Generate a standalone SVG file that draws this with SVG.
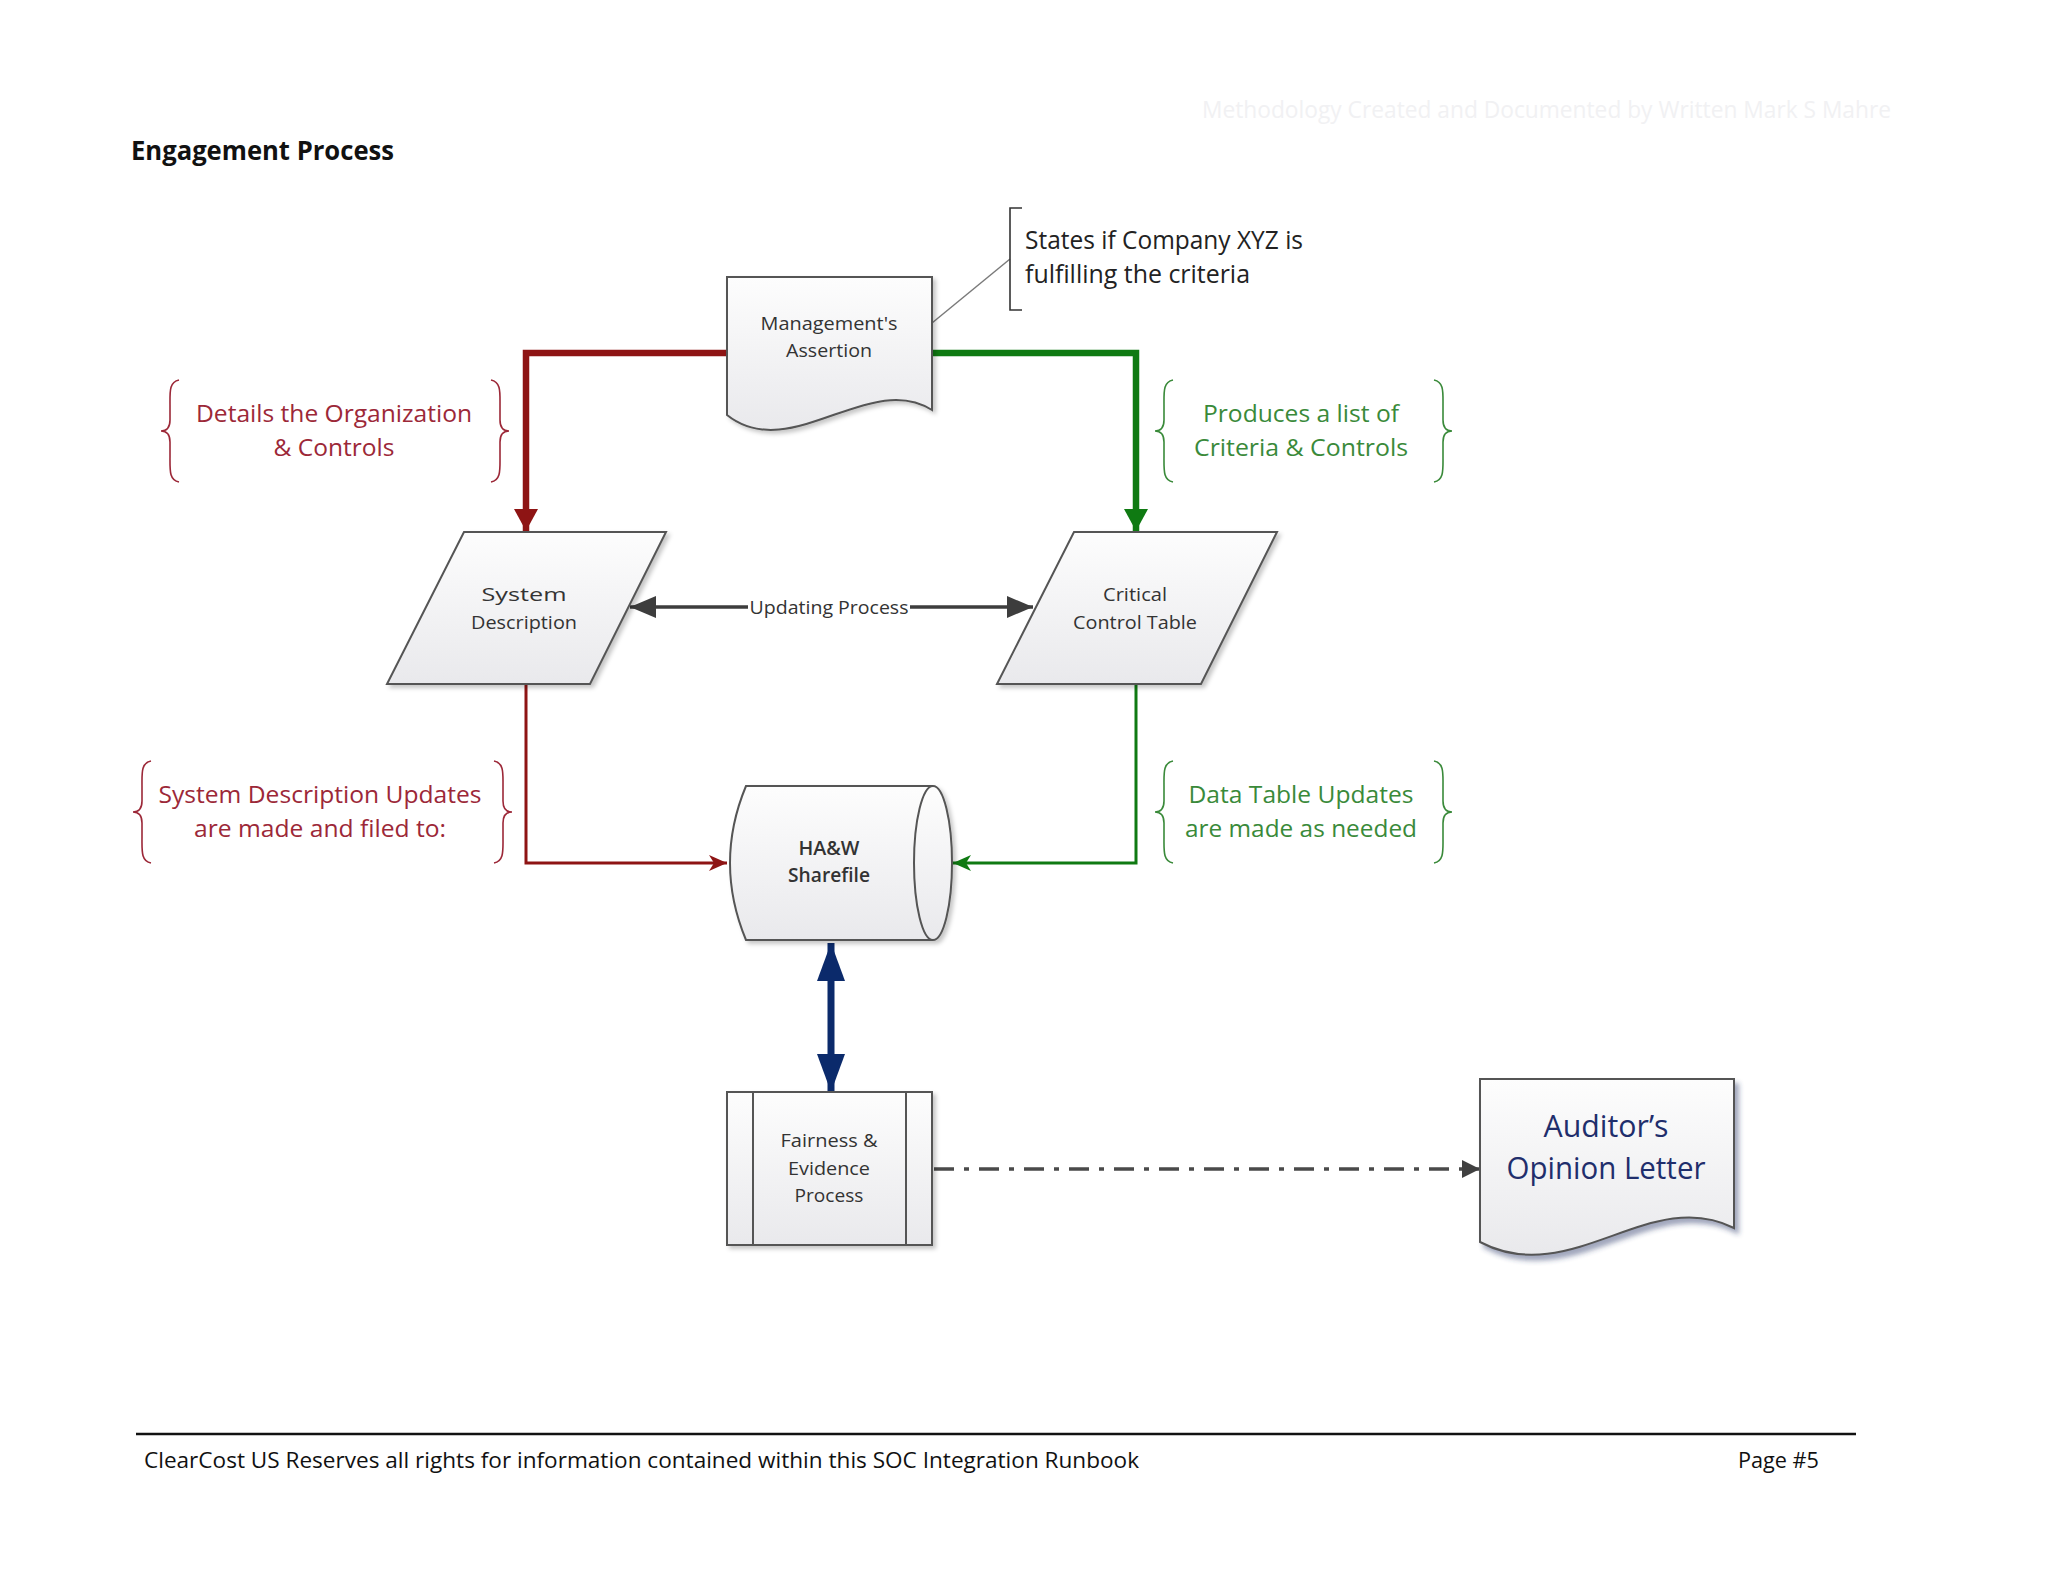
<svg xmlns="http://www.w3.org/2000/svg" width="2048" height="1582" viewBox="0 0 2048 1582">
<style>
text{font-family:"Open Sans","Liberation Sans",sans-serif}
.node{fill:url(#g);stroke:#555;stroke-width:2;filter:url(#sh)}
.nt{font-size:19px;fill:#333;text-anchor:middle}
.red{fill:#9c2838;font-size:24px;text-anchor:middle}
.grn{fill:#3a8a3a;font-size:24px;text-anchor:middle}
.bR{fill:none;stroke:#9c2838;stroke-width:1.6}
.bG{fill:none;stroke:#3a8a3a;stroke-width:1.6}
</style>
<defs>
<linearGradient id="g" x1="0" y1="0" x2="0" y2="1"><stop offset="0" stop-color="#fdfdfd"/><stop offset="1" stop-color="#e9e9ec"/></linearGradient>
<filter id="sh" x="-10%" y="-10%" width="130%" height="130%"><feDropShadow dx="3" dy="3" stdDeviation="2" flood-color="#000" flood-opacity="0.22"/></filter>
<filter id="sh2" x="-10%" y="-10%" width="130%" height="130%"><feDropShadow dx="4" dy="5" stdDeviation="2.5" flood-color="#2a3a6a" flood-opacity="0.45"/></filter>
<marker id="aRed" markerUnits="userSpaceOnUse" markerWidth="22" markerHeight="24" refX="22" refY="12" orient="auto"><path d="M0,0 L22,12 L0,24 Z" fill="#8e1414"/></marker>
<marker id="aGrn" markerUnits="userSpaceOnUse" markerWidth="22" markerHeight="24" refX="22" refY="12" orient="auto"><path d="M0,0 L22,12 L0,24 Z" fill="#0f7a12"/></marker>
<marker id="aRedS" markerUnits="userSpaceOnUse" markerWidth="18" markerHeight="16" refX="18" refY="8" orient="auto"><path d="M0,0 L18,8 L0,16 L5,8 Z" fill="#8e1414"/></marker>
<marker id="aGrnS" markerUnits="userSpaceOnUse" markerWidth="18" markerHeight="16" refX="18" refY="8" orient="auto"><path d="M0,0 L18,8 L0,16 L5,8 Z" fill="#0f7a12"/></marker>
<marker id="aGray" markerUnits="userSpaceOnUse" markerWidth="26" markerHeight="22" refX="26" refY="11" orient="auto-start-reverse"><path d="M0,0 L26,11 L0,22 Z" fill="#3d3d3d"/></marker>
<marker id="aBlue" markerUnits="userSpaceOnUse" markerWidth="38" markerHeight="28" refX="38" refY="14" orient="auto-start-reverse"><path d="M0,0 L38,14 L0,28 Z" fill="#0b2a6b"/></marker>
<marker id="aDash" markerUnits="userSpaceOnUse" markerWidth="18" markerHeight="18" refX="18" refY="9" orient="auto"><path d="M0,0 L18,9 L0,18 Z" fill="#404040"/></marker>
</defs>
<rect width="2048" height="1582" fill="#ffffff"/>

<text x="1202" y="118" font-size="24" fill="#f1f1f3" textLength="689" lengthAdjust="spacingAndGlyphs">Methodology Created and Documented by Written Mark S Mahre</text>
<text x="131" y="160" font-size="27" font-weight="bold" fill="#111" textLength="263" lengthAdjust="spacingAndGlyphs">Engagement Process</text>

<g id="connectors">
<polyline points="727,353 526,353 526,531" fill="none" stroke="#8e1414" stroke-width="6.5" marker-end="url(#aRed)"/>
<polyline points="932,353 1136,353 1136,531" fill="none" stroke="#0f7a12" stroke-width="6.5" marker-end="url(#aGrn)"/>
<line x1="630" y1="607" x2="1033" y2="607" stroke="#3d3d3d" stroke-width="3.5" marker-start="url(#aGray)" marker-end="url(#aGray)"/>
<rect x="748" y="592" width="162" height="30" fill="#fff"/>
<text x="829" y="614" class="nt" textLength="159" lengthAdjust="spacingAndGlyphs">Updating Process</text>
<polyline points="526,684 526,863 727,863" fill="none" stroke="#8e1414" stroke-width="3" marker-end="url(#aRedS)"/>
<polyline points="1136,684 1136,863 953,863" fill="none" stroke="#0f7a12" stroke-width="3" marker-end="url(#aGrnS)"/>
<line x1="831" y1="943" x2="831" y2="1092" stroke="#0b2a6b" stroke-width="7" marker-start="url(#aBlue)" marker-end="url(#aBlue)"/>
<line x1="934" y1="1169" x2="1480" y2="1169" stroke="#4a4a4a" stroke-width="3.5" stroke-dasharray="20 10 5 10" marker-end="url(#aDash)"/>
<line x1="932" y1="323" x2="1010" y2="259" stroke="#7a7a7a" stroke-width="1.5"/>
</g>

<g id="callout">
<path d="M1022,208 H1010 V310 H1022" fill="none" stroke="#333" stroke-width="1.6"/>
<text x="1025" y="249" font-size="25" fill="#222" textLength="278" lengthAdjust="spacingAndGlyphs">States if Company XYZ is</text>
<text x="1025" y="283" font-size="25" fill="#222" textLength="225" lengthAdjust="spacingAndGlyphs">fulfilling the criteria</text>
</g>

<g id="mgmt-assertion">
<path class="node" d="M727,277 H932 V410 C870,370 790,465 727,415 Z"/>
<text class="nt" x="829" y="330" textLength="137" lengthAdjust="spacingAndGlyphs">Management's</text>
<text class="nt" x="829" y="357" textLength="86" lengthAdjust="spacingAndGlyphs">Assertion</text>
</g>

<g id="note-details">
<path class="bR" d="M179,380 C169,382 170,392 170,405 L170,420 C170,428 167,431 161,431 C167,431 170,434 170,442 L170,457 C170,470 169,480 179,482"/>
<path class="bR" d="M491,380 C501,382 500,392 500,405 L500,420 C500,428 503,431 509,431 C503,431 500,434 500,442 L500,457 C500,470 501,480 491,482"/>
<text class="red" x="334" y="422" textLength="276" lengthAdjust="spacingAndGlyphs">Details the Organization</text>
<text class="red" x="334" y="456" textLength="121" lengthAdjust="spacingAndGlyphs">&amp; Controls</text>
</g>

<g id="note-produces">
<path class="bG" d="M1173,380 C1163,382 1164,392 1164,405 L1164,420 C1164,428 1161,431 1155,431 C1161,431 1164,434 1164,442 L1164,457 C1164,470 1163,480 1173,482"/>
<path class="bG" d="M1434,380 C1444,382 1443,392 1443,405 L1443,420 C1443,428 1446,431 1452,431 C1446,431 1443,434 1443,442 L1443,457 C1443,470 1444,480 1434,482"/>
<text class="grn" x="1301" y="422" textLength="196" lengthAdjust="spacingAndGlyphs">Produces a list of</text>
<text class="grn" x="1301" y="456" textLength="214" lengthAdjust="spacingAndGlyphs">Criteria &amp; Controls</text>
</g>

<g id="system-description">
<path class="node" d="M464,532 H666 L590,684 H387 Z"/>
<text class="nt" x="524" y="601" textLength="85" lengthAdjust="spacingAndGlyphs">System</text>
<text class="nt" x="524" y="629" textLength="106" lengthAdjust="spacingAndGlyphs">Description</text>
</g>

<g id="critical-control-table">
<path class="node" d="M1074,532 H1277 L1201,684 H997 Z"/>
<text class="nt" x="1135" y="601" textLength="64" lengthAdjust="spacingAndGlyphs">Critical</text>
<text class="nt" x="1135" y="629" textLength="124" lengthAdjust="spacingAndGlyphs">Control Table</text>
</g>

<g id="note-sd-updates">
<path class="bR" d="M151,761 C141,763 142,773 142,786 L142,801 C142,809 139,812 133,812 C139,812 142,815 142,823 L142,838 C142,851 141,861 151,863"/>
<path class="bR" d="M494,761 C504,763 503,773 503,786 L503,801 C503,809 506,812 512,812 C506,812 503,815 503,823 L503,838 C503,851 504,861 494,863"/>
<text class="red" x="320" y="803" textLength="323" lengthAdjust="spacingAndGlyphs">System Description Updates</text>
<text class="red" x="320" y="837" textLength="252" lengthAdjust="spacingAndGlyphs">are made and filed to:</text>
</g>

<g id="note-dt-updates">
<path class="bG" d="M1173,761 C1163,763 1164,773 1164,786 L1164,801 C1164,809 1161,812 1155,812 C1161,812 1164,815 1164,823 L1164,838 C1164,851 1163,861 1173,863"/>
<path class="bG" d="M1434,761 C1444,763 1443,773 1443,786 L1443,801 C1443,809 1446,812 1452,812 C1446,812 1443,815 1443,823 L1443,838 C1443,851 1444,861 1434,863"/>
<text class="grn" x="1301" y="803" textLength="225" lengthAdjust="spacingAndGlyphs">Data Table Updates</text>
<text class="grn" x="1301" y="837" textLength="232" lengthAdjust="spacingAndGlyphs">are made as needed</text>
</g>

<g id="sharefile">
<path class="node" d="M746,786 H933 A19,77 0 0 1 933,940 H746 Q714,863 746,786 Z"/>
<path d="M933,786 A19,77 0 0 0 933,940" fill="none" stroke="#555" stroke-width="2"/>
<text class="nt" x="829" y="855" font-weight="600" fill="#444" textLength="61" lengthAdjust="spacingAndGlyphs">HA&amp;W</text>
<text class="nt" x="829" y="882" font-weight="600" fill="#444" textLength="82" lengthAdjust="spacingAndGlyphs">Sharefile</text>
</g>

<g id="fairness-evidence">
<rect class="node" x="727" y="1092" width="205" height="153"/>
<line x1="753" y1="1092" x2="753" y2="1245" stroke="#555" stroke-width="2"/>
<line x1="906" y1="1092" x2="906" y2="1245" stroke="#555" stroke-width="2"/>
<text class="nt" x="829" y="1147" textLength="97" lengthAdjust="spacingAndGlyphs">Fairness &amp;</text>
<text class="nt" x="829" y="1175" textLength="82" lengthAdjust="spacingAndGlyphs">Evidence</text>
<text class="nt" x="829" y="1202" textLength="69" lengthAdjust="spacingAndGlyphs">Process</text>
</g>

<g id="auditors-opinion">
<path d="M1480,1079 H1734 V1228 C1650,1185 1570,1290 1480,1242 Z" fill="url(#g)" stroke="#555" stroke-width="2" filter="url(#sh2)"/>
<text x="1606" y="1137" font-size="31" fill="#1f2e6c" text-anchor="middle" textLength="125" lengthAdjust="spacingAndGlyphs">Auditor’s</text>
<text x="1606" y="1179" font-size="31" fill="#1f2e6c" text-anchor="middle" textLength="199" lengthAdjust="spacingAndGlyphs">Opinion Letter</text>
</g>

<line x1="136" y1="1434" x2="1856" y2="1434" stroke="#111" stroke-width="2.5"/>
<text x="144" y="1468" font-size="22" fill="#111" textLength="995" lengthAdjust="spacingAndGlyphs">ClearCost US Reserves all rights for information contained within this SOC Integration Runbook</text>
<text x="1738" y="1468" font-size="22" fill="#111" textLength="81" lengthAdjust="spacingAndGlyphs">Page #5</text>
</svg>
